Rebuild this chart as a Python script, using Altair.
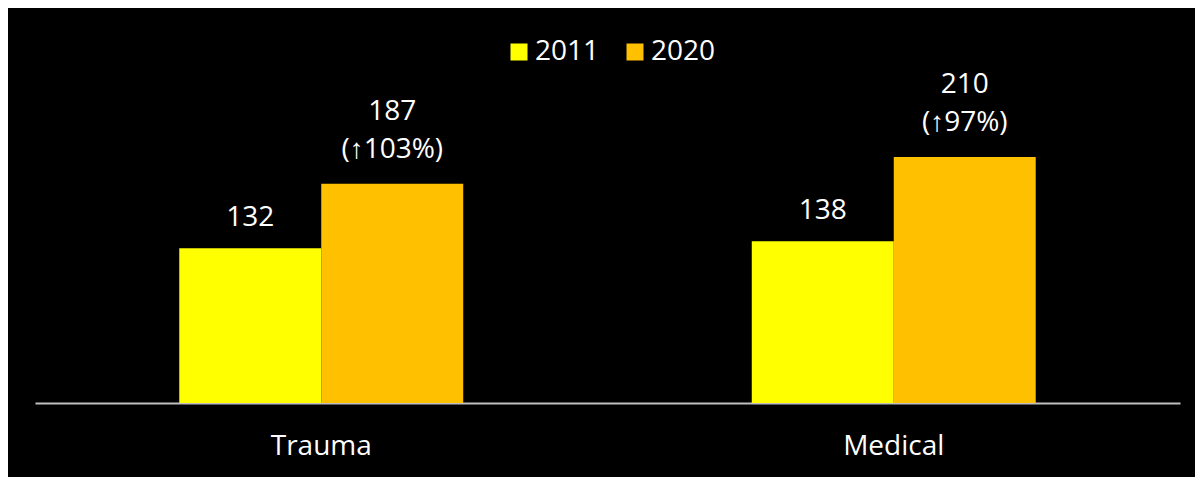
import altair as alt
import pandas as pd

categories = ["Trauma", "Trauma", "Medical", "Medical"]
years = ["2011", "2020", "2011", "2020"]
values = [132, 187, 138, 210]
pct_labels = ["", "(↑103%)", "", "(↑97%)"]

df = pd.DataFrame({"category": categories, "year": years, "value": values, "pct": pct_labels})

FONT = "Open Sans"
FS = 28

x = alt.X("category:N", sort=["Trauma", "Medical"], title=None,
          scale=alt.Scale(paddingInner=0.504, paddingOuter=0.252),
          axis=alt.Axis(domainColor="#bfbfbf", domainWidth=2, ticks=False, labelAngle=0,
                        labelColor="white", labelFont=FONT, labelFontSize=FS, labelPadding=29,
                        grid=False))
y = alt.Y("value:Q", scale=alt.Scale(domain=[0, 250]), axis=None)
xo = alt.XOffset("year:N", sort=["2011", "2020"], scale=alt.Scale(paddingInner=0, paddingOuter=0))

base = alt.Chart(df).encode(x=x, y=y, xOffset=xo)

bars = base.mark_bar().encode(
    color=alt.Color("year:N", sort=["2011", "2020"],
                    scale=alt.Scale(domain=["2011", "2020"], range=["#FFFF00", "#FFC000"]),
                    legend=alt.Legend(title=None, orient="none", direction="horizontal",
                                      legendX=470, legendY=-72, symbolType="square",
                                      symbolSize=289, symbolStrokeWidth=0, symbolOpacity=1,
                                      labelColor="white", labelFont=FONT, labelFontSize=FS,
                                      columnPadding=21, labelOffset=2))
)

t2011 = base.transform_filter(alt.datum.year == "2011").mark_text(
    color="white", font=FONT, fontSize=FS, baseline="middle", dy=-30
).encode(text="value:Q")
t2020 = base.transform_filter(alt.datum.year == "2020").mark_text(
    color="white", font=FONT, fontSize=FS, baseline="middle", dy=-72
).encode(text="value:Q")
tpct = base.transform_filter(alt.datum.year == "2020").mark_text(
    color="white", font=FONT, fontSize=FS, baseline="middle", dy=-34
).encode(text="pct:N")

chart = alt.layer(bars, t2011, t2020, tpct).properties(
    width=1145, height=293,
    autosize=alt.AutoSizeParams(type="none"),
    padding={"left": 27, "top": 102, "right": 15, "bottom": 74},
    background="black",
).configure_view(stroke=None)

chart.save("out.html", embed_options={"renderer": "svg", "actions": False})
